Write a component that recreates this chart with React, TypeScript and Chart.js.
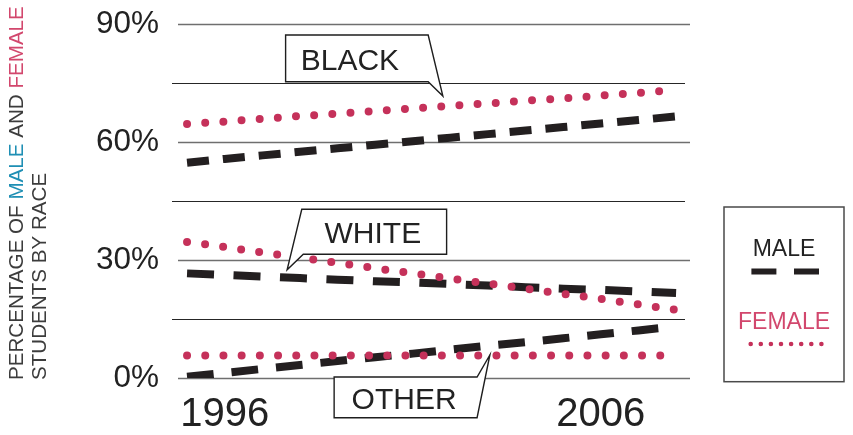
import React, { useEffect, useRef } from "react";
import { Chart, registerables } from "chart.js";

Chart.register(...registerables);

// ---------- data ----------
const years = [1995, 1996, 1997, 1998, 1999, 2000, 2001, 2002, 2003, 2004, 2005, 2006, 2007, 2008];
const blackFemale = [64.6, 65.2, 65.9, 66.6, 67.2, 67.9, 68.5, 69.2, 69.8, 70.5, 71.1, 71.8, 72.5, 73.2];
const blackMale = [54.7, 55.7, 56.6, 57.5, 58.4, 59.3, 60.2, 61.1, 62.0, 62.9, 63.8, 64.7, 65.6, 66.5];
const whiteFemale = [34.6, 33.3, 31.9, 30.6, 29.3, 27.9, 26.6, 25.3, 24.0, 22.7, 21.4, 20.1, 18.7, 17.3];
const whiteMale = [26.6, 26.2, 25.8, 25.4, 25.0, 24.6, 24.3, 23.9, 23.5, 23.1, 22.7, 22.4, 22.0, 21.6];
const otherFemale = [5.7, 5.7, 5.7, 5.7, 5.7, 5.7, 5.7, 5.7, 5.7, 5.7, 5.7, 5.7, 5.7, 5.7];
const otherMale = [0.3, 1.3, 2.3, 3.3, 4.3, 5.3, 6.2, 7.2, 8.2, 9.1, 10.1, 11.1, 12.1, 13.1];

const yTickValues = [0, 15, 30, 45, 60, 75, 90];
const yLabelValues = [0, 30, 60, 90];
const xTickYears = [1996, 2006];
const xTickLabels = ["1996", "2006"];

const legendMale = "MALE";
const legendFemale = "FEMALE";
const titleLine1 = [
  { text: "PERCENTAGE OF ", color: "#3c3c3c" },
  { text: "MALE", color: "#1f8fb4" },
  { text: " AND ", color: "#3c3c3c" },
  { text: "FEMALE", color: "#d2476d" },
];
const titleLine2 = "STUDENTS BY RACE";

// callout boxes, positioned in data coordinates (year, percent)
const callouts = [
  { text: "BLACK", side: "right", left: 1997.62, right: 2001.41, top: 87.2, bottom: 75.3, tipX: 2001.8, tipY: 71.7, textX: 1999.33 },
  { text: "WHITE", side: "left", left: 1998.05, right: 2001.9, top: 42.9, bottom: 31.45, tipX: 1997.66, tipY: 27.5, textX: 1999.94 },
  { text: "OTHER", side: "right", left: 1998.91, right: 2002.71, top: 0.25, bottom: -10.1, tipX: 2003.05, tipY: 5.85, textX: 2000.77 },
];

// ---------- styles ----------
const FONT = '"Liberation Sans", Arial, Helvetica, sans-serif';
const PINK = "#c5315a";
const DARK = "#231f20";
const TEXT = "#222222";

const toPts = (vals: number[]) => years.map((yr, i) => ({ x: yr, y: vals[i] }));

const femaleStyle = {
  borderColor: PINK,
  borderWidth: 8,
  borderDash: [0, 18.2],
  borderCapStyle: "round" as const,
  borderJoinStyle: "round" as const,
  pointRadius: 0,
  tension: 0,
  fill: false,
};
const maleBase = {
  borderColor: DARK,
  borderWidth: 8,
  borderCapStyle: "butt" as const,
  pointRadius: 0,
  tension: 0,
  fill: false,
};

const decorPlugin = {
  id: "decor",
  beforeDatasetsDraw(chart: any) {
    const { ctx, chartArea, scales } = chart;
    const ys = scales.y;
    ctx.save();
    yTickValues.forEach((v) => {
      const y = Math.round(ys.getPixelForValue(v)) + 0.5;
      const major = v % 30 === 0;
      ctx.beginPath();
      ctx.strokeStyle = major ? "#6f6f6f" : "#262626";
      ctx.lineWidth = major ? 1.6 : 1.1;
      ctx.moveTo(major ? chartArea.left + 6 : chartArea.left, y);
      ctx.lineTo(major ? chartArea.right : chartArea.right - 5, y);
      ctx.stroke();
    });
    ctx.restore();
  },
  afterDraw(chart: any) {
    const { ctx, chartArea, scales } = chart;
    const xs = scales.x;
    const ys = scales.y;
    const px = (v: number) => xs.getPixelForValue(v);
    const py = (v: number) => ys.getPixelForValue(v);

    // callouts
    ctx.save();
    callouts.forEach((c) => {
      const L = px(c.left), R = px(c.right), T = py(c.top), B = py(c.bottom);
      const tx = px(c.tipX), ty = py(c.tipY);
      ctx.beginPath();
      if (c.side === "right") {
        ctx.moveTo(L, T);
        ctx.lineTo(R, T);
        ctx.lineTo(tx, ty);
        ctx.lineTo(R, B);
        ctx.lineTo(L, B);
      } else {
        ctx.moveTo(L, T);
        ctx.lineTo(R, T);
        ctx.lineTo(R, B);
        ctx.lineTo(L + 1.5, B);
        ctx.lineTo(tx, ty);
      }
      ctx.closePath();
      ctx.fillStyle = "#ffffff";
      ctx.fill();
      ctx.strokeStyle = "#1e1e1e";
      ctx.lineWidth = 1.4;
      ctx.lineJoin = "miter";
      ctx.stroke();
      const size = 30;
      ctx.font = `${size}px ${FONT}`;
      ctx.fillStyle = TEXT;
      ctx.textAlign = "center";
      ctx.textBaseline = "alphabetic";
      ctx.fillText(c.text, px(c.textX), (T + B) / 2 + 0.358 * size + 0.8);
    });
    ctx.restore();

    // legend box
    ctx.save();
    const lL = chartArea.right + 34;
    const lR = chartArea.right + 154;
    const lT = py(45) + 6;
    const lB = py(0) + 3.7;
    const cx = (lL + lR) / 2;
    ctx.strokeStyle = "#4a4a4a";
    ctx.lineWidth = 1.5;
    ctx.strokeRect(lL, lT, lR - lL, lB - lT);
    const ls = 23;
    ctx.font = `${ls}px ${FONT}`;
    ctx.textAlign = "center";
    ctx.textBaseline = "alphabetic";
    ctx.fillStyle = TEXT;
    ctx.fillText(legendMale, cx, lT + 41 + 0.358 * ls);
    ctx.beginPath();
    ctx.strokeStyle = DARK;
    ctx.lineWidth = 6;
    ctx.setLineDash([25, 17.6]);
    ctx.lineCap = "butt";
    ctx.moveTo(lL + 27.4, lT + 64.5);
    ctx.lineTo(lL + 95, lT + 64.5);
    ctx.stroke();
    ctx.fillStyle = "#d2476d";
    ctx.fillText(legendFemale, cx, lT + 113.7 + 0.358 * ls);
    ctx.beginPath();
    ctx.strokeStyle = PINK;
    ctx.lineWidth = 4.6;
    ctx.setLineDash([0, 10.1]);
    ctx.lineCap = "round";
    ctx.moveTo(lL + 26.7, lT + 137);
    ctx.lineTo(lL + 97.5, lT + 137);
    ctx.stroke();
    ctx.restore();

    // rotated axis title
    ctx.save();
    const ts = 20.6;
    ctx.font = `${ts}px ${FONT}`;
    ctx.textAlign = "left";
    ctx.textBaseline = "alphabetic";
    ctx.translate(23.3, chartArea.bottom + 2);
    ctx.rotate(-Math.PI / 2);
    let xOff = 0;
    titleLine1.forEach((seg) => {
      ctx.fillStyle = seg.color;
      ctx.fillText(seg.text, xOff, 0);
      xOff += ctx.measureText(seg.text).width;
    });
    ctx.fillStyle = "#3c3c3c";
    ctx.fillText(titleLine2, 0, 22.4);
    ctx.restore();
  },
};

export default function App() {
  const ref = useRef<HTMLCanvasElement | null>(null);

  useEffect(() => {
    document.body.style.margin = "0";
    const canvas = ref.current;
    if (!canvas) return;
    const chart = new Chart(canvas, {
      type: "line",
      data: {
        datasets: [
          { label: "Black female", data: toPts(blackFemale), ...femaleStyle },
          { label: "White female", data: toPts(whiteFemale), ...femaleStyle },
          { label: "Other female", data: toPts(otherFemale), ...femaleStyle },
          { label: "Black male", data: toPts(blackMale), ...maleBase, borderDash: [22, 14] },
          { label: "White male", data: toPts(whiteMale), ...maleBase, borderDash: [27, 19.5] },
          { label: "Other male", data: toPts(otherMale), ...maleBase, borderDash: [26.7, 18] },
        ] as any,
      },
      options: {
        responsive: false,
        animation: false,
        events: [],
        layout: { autoPadding: false, padding: { top: 24, right: 163, bottom: 0, left: 0 } },
        plugins: { legend: { display: false }, tooltip: { enabled: false } },
        scales: {
          x: {
            type: "linear",
            min: 1994.6,
            max: 2008.37,
            grid: { display: false, drawTicks: false },
            border: { display: false },
            afterBuildTicks: (s: any) => {
              s.ticks = xTickYears.map((v) => ({ value: v }));
            },
            afterFit: (s: any) => {
              s.height = 57;
              s.paddingLeft = 0;
              s.paddingRight = 0;
              s.paddingTop = 0;
              s.paddingBottom = 0;
            },
            ticks: {
              autoSkip: false,
              maxRotation: 0,
              padding: 13,
              color: TEXT,
              font: { family: FONT, size: 40 },
              callback: (v: any) => {
                const i = xTickYears.indexOf(Number(v));
                return i >= 0 ? xTickLabels[i] : "";
              },
            },
          },
          y: {
            type: "linear",
            min: 0,
            max: 90,
            grid: { display: false, drawTicks: false },
            border: { display: false },
            afterBuildTicks: (s: any) => {
              s.ticks = yTickValues.map((v) => ({ value: v }));
            },
            afterFit: (s: any) => {
              s.width = 172;
              s.paddingTop = 0;
              s.paddingBottom = 0;
              s.paddingLeft = 0;
              s.paddingRight = 0;
            },
            ticks: {
              autoSkip: false,
              padding: 13,
              color: TEXT,
              font: { family: FONT, size: 31.5 },
              callback: (v: any) => (yLabelValues.includes(Number(v)) ? `${v}%` : ""),
            },
          },
        },
      },
      plugins: [decorPlugin],
    });
    return () => chart.destroy();
  }, []);

  return (
    <div style={{ width: 853, height: 435, position: "relative", background: "#fff" }}>
      <canvas ref={ref} width={853} height={435} style={{ display: "block" }} />
    </div>
  );
}
